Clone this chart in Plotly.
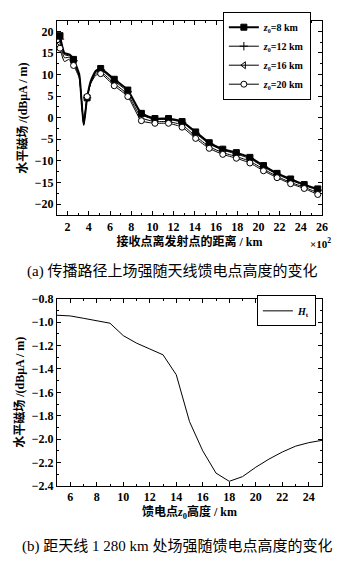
import plotly.graph_objects as go

# ---- (a) field strength along propagation path (x in 10^2 km) ----
DIST_LINE = [1.28, 1.70, 2.20, 2.56, 3.10, 3.30, 3.52, 3.84, 4.20, 4.65, 5.12,
             6.40, 7.68, 8.96, 10.24, 11.52, 12.80, 14.08, 15.36, 16.64, 17.92,
             19.20, 20.48, 21.76, 23.04, 24.32, 25.60]
DIST_MARK = [1.28, 2.56, 3.84, 5.12, 6.40, 7.68, 8.96, 10.24, 11.52, 12.80, 14.08,
             15.36, 16.64, 17.92, 19.20, 20.48, 21.76, 23.04, 24.32, 25.60]
H_Z8 = [19.0, 15.0, 14.6, 13.5, 10.0, 4.4, -1.7, 4.6, 8.6, 10.8, 11.4,
        8.9, 6.4, 1.0, -0.2, -0.2, -0.9, -3.3, -5.8, -7.3, -8.1,
        -9.2, -11.1, -12.9, -14.2, -15.5, -16.5]
H_Z12 = [18.2, 14.6, 14.3, 13.2, 9.8, 4.4, -1.6, 4.6, 8.4, 10.5, 11.1,
         8.5, 6.0, 0.7, -0.4, -0.4, -1.1, -3.6, -6.1, -7.5, -8.4,
         -9.5, -11.4, -13.1, -14.5, -15.7, -16.8]
H_Z16 = [17.2, 13.9, 14.0, 12.7, 9.5, 4.3, -1.4, 4.7, 8.2, 10.2, 10.6,
         7.9, 5.4, 0.0, -0.9, -0.9, -1.7, -4.3, -6.7, -8.1, -9.0,
         -10.1, -11.9, -13.6, -15.0, -16.1, -17.4]
H_Z20 = [16.1, 13.0, 13.6, 12.1, 9.2, 4.3, -1.2, 4.9, 8.0, 9.8, 10.2,
         7.4, 4.9, -0.7, -1.3, -1.3, -2.2, -4.8, -7.1, -8.5, -9.4,
         -10.5, -12.3, -13.9, -15.3, -16.4, -17.8]
SERIES_NAMES = ["z0=8 km", "z0=12 km", "z0=16 km", "z0=20 km"]
SERIES_LABELS = ["<i>z</i>₀=8 km", "<i>z</i>₀=12 km",
                 "<i>z</i>₀=16 km", "<i>z</i>₀=20 km"]

# ---- (b) field at 1 280 km vs feed height ----
FEED_H = [5, 6, 7, 8, 9, 10, 11, 12, 13, 14, 15, 16, 17, 18, 19, 20, 21, 22, 23, 24, 25]
H_T = [-0.942, -0.948, -0.968, -0.987, -1.01, -1.116, -1.18, -1.23, -1.28, -1.45,
       -1.85, -2.10, -2.29, -2.36, -2.32, -2.24, -2.17, -2.11, -2.06, -2.03, -2.01]

SERIF = "Liberation Serif, Noto Sans CJK SC, serif"
styles = [
    dict(symbol="square", size=6, color="black", line=dict(color="black", width=1)),
    dict(symbol="cross-thin", size=6, color="black", line=dict(color="black", width=1)),
    dict(symbol="triangle-left-open", size=6, color="black", line=dict(color="black", width=1)),
    dict(symbol="circle", size=6, color="white", line=dict(color="black", width=1)),
]
widths = [2.0, 1.0, 1.0, 1.0]
series = [H_Z8, H_Z12, H_Z16, H_Z20]

fig = go.Figure()
for name, lab, ys, st, w in zip(SERIES_NAMES, SERIES_LABELS, series, styles, widths):
    fig.add_trace(go.Scatter(x=DIST_LINE, y=ys, mode="lines", showlegend=False,
                             line=dict(color="black", width=w, shape="spline", smoothing=0.5),
                             xaxis="x", yaxis="y", hoverinfo="skip"))
    mx = [x for x in DIST_LINE if x in DIST_MARK]
    my = [y for x, y in zip(DIST_LINE, ys) if x in DIST_MARK]
    fig.add_trace(go.Scatter(x=mx, y=my, mode="markers", showlegend=False, name=name,
                             marker=st, xaxis="x", yaxis="y"))
    fig.add_trace(go.Scatter(x=[None], y=[None], mode="lines+markers", name=lab,
                             marker=st, line=dict(color="black", width=w),
                             xaxis="x", yaxis="y", legend="legend"))

fig.add_trace(go.Scatter(x=FEED_H, y=H_T, mode="lines", name="<i>H</i><sub>t</sub>",
                         line=dict(color="black", width=1),
                         xaxis="x2", yaxis="y2", legend="legend2"))

TICKFONT = dict(family=SERIF, size=12, color="black", weight="bold")
TITLEFONT = dict(family=SERIF, size=12, color="black", weight="bold")
axis_common = dict(showline=True, linecolor="black", linewidth=1, mirror="allticks",
                   ticks="inside", ticklen=4, tickcolor="black", showgrid=False,
                   zeroline=False, tickfont=TICKFONT)


def minor(d):
    return dict(ticks="inside", ticklen=2, tickcolor="black", dtick=d)


fig.update_layout(
    width=344, height=564,
    margin=dict(l=57, r=22, t=12, b=78),
    paper_bgcolor="white", plot_bgcolor="white",
    font=dict(family=SERIF, color="black", size=12),
    xaxis=dict(domain=[0, 1], anchor="y", range=[1, 26], dtick=2, tick0=0,
               minor=minor(1),
               title=dict(text="接收点离发射点的距离 / km", standoff=2, font=TITLEFONT),
               **axis_common),
    yaxis=dict(domain=[0.5823, 1], anchor="x", range=[-22.6, 22.4], dtick=5, tick0=0,
               minor=minor(2.5),
               title=dict(text="水平磁场 /(dBμA / m)", standoff=4, font=TITLEFONT),
               **axis_common),
    xaxis2=dict(domain=[0, 1], anchor="y2", range=[5, 25], dtick=2, tick0=0,
                minor=minor(1),
                title=dict(text="馈电点<i>z</i><sub>0</sub>高度 / km", standoff=2, font=TITLEFONT),
                **axis_common),
    yaxis2=dict(domain=[0, 0.403], anchor="x2", range=[-2.4, -0.8], dtick=0.2, tick0=0,
                tickformat=".1f", minor=minor(0.1),
                title=dict(text="水平磁场 /(dBμA / m)", standoff=4, font=TITLEFONT),
                **axis_common),
    legend=dict(x=0.958, y=1.02, xanchor="right", yanchor="top",
                bgcolor="white", bordercolor="black", borderwidth=1,
                font=dict(family=SERIF, size=10, weight="bold"), tracegroupgap=0,
                itemwidth=30),
    legend2=dict(x=0.977, y=0.41, xanchor="right", yanchor="top",
                 bgcolor="white", bordercolor="black", borderwidth=1,
                 font=dict(family=SERIF, size=10, weight="bold"), itemwidth=30),
    annotations=[
        dict(text="(a) 传播路径上场强随天线馈电点高度的变化", xref="paper", yref="paper",
             x=0.434, y=0.462, showarrow=False, xanchor="center", yanchor="middle",
             font=dict(family=SERIF, size=15)),
        dict(text="(b) 距天线 1 280 km 处场强随馈电点高度的变化", xref="paper", yref="paper",
             x=0.453, y=-0.131, showarrow=False, xanchor="center", yanchor="middle",
             font=dict(family=SERIF, size=15)),
        dict(text="×10<sup>2</sup>", xref="paper", yref="paper",
             x=0.995, y=0.522, showarrow=False, xanchor="center", yanchor="middle",
             font=dict(family=SERIF, size=11, weight="bold")),
    ],
)

fig.write_html("out.html")
